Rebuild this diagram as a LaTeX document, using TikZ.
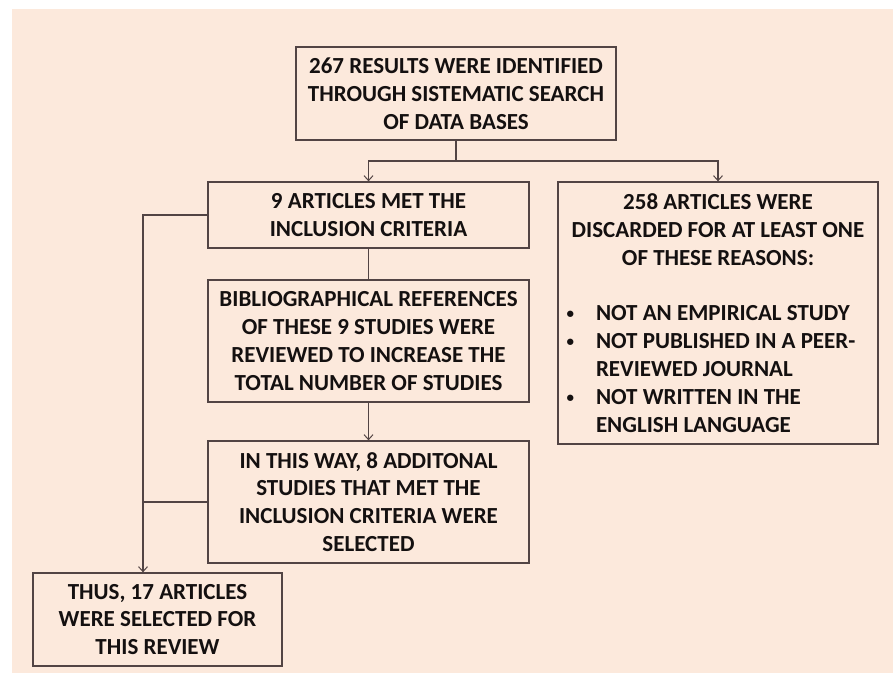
\documentclass[tikz,border=0pt]{standalone}
\usepackage{fontspec}
\setmainfont{Carlito}
\usetikzlibrary{arrows.meta}
\definecolor{peach}{RGB}{252,233,220}
\definecolor{edge}{RGB}{82,68,68}
\definecolor{ink}{RGB}{20,16,16}
\newcommand\mybul{\leavevmode\llap{\raisebox{2pt}{\fontsize{15}{15}\selectfont\textbullet}\hspace{22pt}}}
\tikzset{
  box/.style={draw=edge, line width=1.3pt, fill=peach, rectangle, inner sep=0pt,
    align=center, text=ink, font=\fontsize{23}{27.8}\selectfont\bfseries},
  link/.style={draw=edge, line width=1.3pt},
  arr/.style={link, -{Straight Barb[length=5pt,width=9pt,line width=1pt]}}
}
\begin{document}
\begin{tikzpicture}[x=1pt,y=-1pt]
\useasboundingbox (0,0) rectangle (893,675);
\fill[white] (0,0) rectangle (893,675);
\fill[peach] (12,9) rectangle (893,673);

\node[box, minimum width=320pt, minimum height=93pt] (top) at (456,93.5)
  {267 RESULTS WERE IDENTIFIED\\THROUGH SISTEMATIC SEARCH\\OF DATA BASES};
\node[box, minimum width=321pt, minimum height=66pt] (met) at (368.5,215)
  {9 ARTICLES MET THE\\INCLUSION CRITERIA};
\node[box, minimum width=321pt, minimum height=122pt] (bib) at (368.5,341)
  {BIBLIOGRAPHICAL REFERENCES\\OF THESE 9 STUDIES WERE\\REVIEWED TO INCREASE THE\\TOTAL NUMBER OF STUDIES};
\node[box, minimum width=321pt, minimum height=122pt] (add) at (368.5,502)
  {IN THIS WAY, 8 ADDITONAL\\STUDIES THAT MET THE\\INCLUSION CRITERIA WERE\\SELECTED};
\node[box, minimum width=249pt, minimum height=93pt] (final) at (157.5,619.5)
  {THUS, 17 ARTICLES\\WERE SELECTED FOR\\THIS REVIEW};
\node[box, minimum width=320pt, minimum height=262pt] (disc) at (718,313)
  {\parbox{310pt}{\centering 258 ARTICLES WERE\\DISCARDED FOR AT LEAST ONE\\OF THESE REASONS:\par
   \vskip27.8pt
   \raggedright\leftskip=33pt
   \mybul NOT AN EMPIRICAL STUDY\par
   \mybul NOT PUBLISHED IN A PEER-\\REVIEWED JOURNAL\par
   \mybul NOT WRITTEN IN THE\\ENGLISH LANGUAGE\par}};

\coordinate (split) at (456,161);
\coordinate (lane) at (143,0);
\draw[link] (top.south) -- (split);
\draw[arr] (split) -| (met.north);
\draw[arr] (split) -| (disc.north);
\draw[link] (met.south) -- (bib.north);
\draw[arr] (bib.south) -- (add.north);
\draw[arr] (met.west) -- (met.west -| lane) -- (final.north -| lane);
\draw[link] (add.west) -- (add.west -| lane);
\end{tikzpicture}
\end{document}
